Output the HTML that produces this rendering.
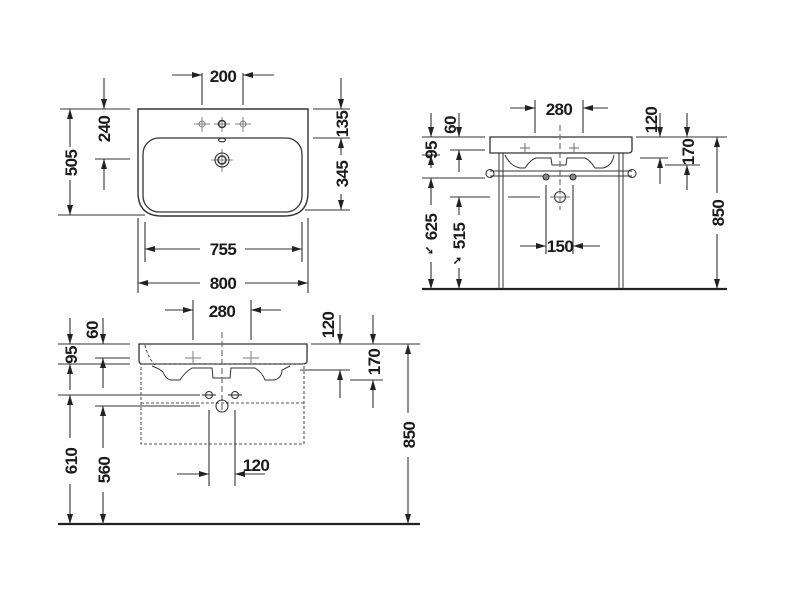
<!DOCTYPE html>
<html><head><meta charset="utf-8"><style>
html,body{margin:0;padding:0;background:#fff;}
svg{display:block;}
text{font-family:"Liberation Sans",sans-serif;font-weight:bold;font-size:17px;letter-spacing:-0.6px;fill:#1a1a1a;text-anchor:middle;}
</style></head><body>
<svg width="800" height="600" viewBox="0 0 800 600" xmlns="http://www.w3.org/2000/svg">
<defs>
<marker id="a" viewBox="0 0 10 6" refX="10" refY="3" markerWidth="10" markerHeight="6" markerUnits="userSpaceOnUse" orient="auto"><path d="M0,0 L10,3 L0,6 z" fill="#222"/></marker>
</defs>
<g stroke="#333" stroke-width="1.1" fill="none">
<!-- ===== TOP VIEW ===== -->
<path d="M138,109 L308,109 L308,192 Q308,216 284,216 L162,216 Q138,216 138,192 Z" stroke-width="1.4"/>
<rect x="143" y="138" width="159" height="74" rx="16" stroke-width="1.3"/>
<g stroke="#666" stroke-width="0.8">
<line x1="194" y1="124" x2="210" y2="124"/><line x1="202" y1="117" x2="202" y2="132"/><circle cx="202" cy="124" r="3"/>
<line x1="235" y1="124" x2="251" y2="124"/><line x1="243" y1="117" x2="243" y2="132"/><circle cx="243" cy="124" r="3"/>
<line x1="214" y1="124" x2="230" y2="124"/><line x1="222" y1="117" x2="222" y2="132"/>
<line x1="211" y1="160" x2="233" y2="160"/><line x1="222" y1="149" x2="222" y2="172"/>
</g>
<circle cx="222" cy="124" r="3.5" stroke-width="1.5"/>
<ellipse cx="222" cy="140" rx="3.5" ry="1.8"/>
<circle cx="222" cy="160" r="7"/><circle cx="222" cy="160" r="4" stroke-width="1.5"/>
<!-- 200 -->
<line x1="202" y1="73" x2="202" y2="105"/><line x1="243" y1="73" x2="243" y2="105"/>
<line x1="172" y1="75" x2="202" y2="75" marker-end="url(#a)"/><line x1="274" y1="75" x2="243" y2="75" marker-end="url(#a)"/>
<!-- 240 / 505 -->
<line x1="60" y1="109" x2="130" y2="109"/><line x1="95" y1="159" x2="130" y2="159"/>
<line x1="58" y1="215" x2="145" y2="215"/>
<line x1="104" y1="78" x2="104" y2="109" marker-end="url(#a)"/>
<line x1="104" y1="190" x2="104" y2="159" marker-end="url(#a)"/>
<line x1="70" y1="147" x2="70" y2="109" marker-end="url(#a)"/>
<line x1="70" y1="180" x2="70" y2="215" marker-end="url(#a)"/>
<!-- 135 / 345 -->
<line x1="313" y1="109" x2="350" y2="109"/><line x1="313" y1="138" x2="350" y2="138"/><line x1="305" y1="210" x2="350" y2="210"/>
<line x1="341" y1="78" x2="341" y2="109" marker-end="url(#a)"/>
<line x1="341" y1="155" x2="341" y2="138" marker-end="url(#a)"/>
<line x1="341" y1="194" x2="341" y2="210" marker-end="url(#a)"/>
<!-- 755 / 800 -->
<line x1="145" y1="222" x2="145" y2="262"/><line x1="302" y1="222" x2="302" y2="262"/>
<line x1="138" y1="218" x2="138" y2="293"/><line x1="308" y1="218" x2="308" y2="293"/>
<line x1="200" y1="249" x2="145" y2="249" marker-end="url(#a)"/><line x1="245" y1="249" x2="302" y2="249" marker-end="url(#a)"/>
<line x1="200" y1="283" x2="138" y2="283" marker-end="url(#a)"/><line x1="245" y1="283" x2="308" y2="283" marker-end="url(#a)"/>

<!-- ===== RIGHT SIDE VIEW (console) ===== -->
<line x1="422" y1="289" x2="727" y2="289" stroke-width="2.2" stroke="#222"/>
<path d="M490,137 L632,137 L632,150 Q632,153 628,153 L490,153 Z" stroke-width="1.3"/>
<path d="M505,155 Q510,166 520,168 L525,168 Q530,160 536,158 L546,158 L551,158 L552,165 L566,165 L567,158 L585,158 Q590,160 595,168 L603,168 Q612,166 614,155" stroke-width="1"/>
<line x1="499" y1="153" x2="499" y2="289" stroke-width="1"/><line x1="503" y1="153" x2="503" y2="289" stroke-width="1"/>
<line x1="619" y1="153" x2="619" y2="289" stroke-width="1"/><line x1="623" y1="153" x2="623" y2="289" stroke-width="1"/>
<line x1="490" y1="171" x2="632" y2="171"/><line x1="490" y1="176" x2="632" y2="176"/>
<circle cx="490" cy="173.5" r="4"/><circle cx="632" cy="173.5" r="4"/>
<circle cx="546" cy="177" r="3" fill="#888"/><circle cx="573" cy="177" r="3" fill="#888"/>
<circle cx="560" cy="197" r="5.5"/>
<line x1="550" y1="197" x2="570" y2="197" stroke="#666"/><line x1="560" y1="125" x2="560" y2="210" stroke="#666" stroke-dasharray="6,3"/>
<line x1="520" y1="148" x2="530" y2="148" stroke="#777"/><line x1="525" y1="143" x2="525" y2="153" stroke="#777"/>
<line x1="569" y1="148" x2="579" y2="148" stroke="#777"/><line x1="574" y1="143" x2="574" y2="153" stroke="#777"/>
<!-- 280 -->
<line x1="535" y1="100" x2="535" y2="133"/><line x1="583" y1="100" x2="583" y2="133"/>
<line x1="510" y1="108" x2="535" y2="108" marker-end="url(#a)"/><line x1="608" y1="108" x2="583" y2="108" marker-end="url(#a)"/>
<!-- left dims -->
<line x1="422" y1="137" x2="485" y2="137"/><line x1="450" y1="150" x2="485" y2="150"/>
<line x1="422" y1="155" x2="440" y2="155"/><line x1="422" y1="178" x2="485" y2="178"/>
<line x1="450" y1="197" x2="490" y2="197"/><line x1="508" y1="197" x2="540" y2="197"/>
<line x1="459" y1="113" x2="459" y2="137" marker-end="url(#a)"/>
<line x1="459" y1="172" x2="459" y2="150" marker-end="url(#a)"/>
<line x1="431" y1="113" x2="431" y2="137" marker-end="url(#a)"/>
<line x1="431" y1="168" x2="431" y2="155" marker-end="url(#a)"/>
<line x1="431" y1="205" x2="431" y2="178" marker-end="url(#a)"/>
<line x1="431" y1="262" x2="431" y2="289" marker-end="url(#a)"/>
<line x1="459" y1="215" x2="459" y2="197" marker-end="url(#a)"/>
<line x1="459" y1="268" x2="459" y2="289" marker-end="url(#a)"/>
<!-- 150 -->
<line x1="546" y1="185" x2="546" y2="254"/><line x1="573" y1="185" x2="573" y2="254"/>
<line x1="520" y1="246" x2="546" y2="246" marker-end="url(#a)"/><line x1="600" y1="246" x2="573" y2="246" marker-end="url(#a)"/>
<!-- right dims -->
<line x1="636" y1="137" x2="727" y2="137"/><line x1="640" y1="158" x2="668" y2="158"/><line x1="665" y1="165" x2="700" y2="165"/>
<line x1="660" y1="113" x2="660" y2="137" marker-end="url(#a)"/>
<line x1="687" y1="113" x2="687" y2="137" marker-end="url(#a)"/>
<line x1="660" y1="184" x2="660" y2="158" marker-end="url(#a)"/>
<line x1="687" y1="190" x2="687" y2="165" marker-end="url(#a)"/>
<line x1="717" y1="193" x2="717" y2="137" marker-end="url(#a)"/>
<line x1="717" y1="234" x2="717" y2="289" marker-end="url(#a)"/>

<!-- ===== BOTTOM-LEFT SIDE VIEW ===== -->
<line x1="58" y1="524" x2="420" y2="524" stroke-width="2.2" stroke="#222"/>
<path d="M139,344 L307,344 L307,362 Q306,364 302,364 L142,364 Q139,364 139,360 Z" stroke-width="1.3"/>
<path d="M152,366 Q160,369 163,372 Q166,380 172,380 L180,380 Q185,372 192,368 L212,368 L213,378 L230,378 L231,368 L255,368 Q262,372 265,380 L274,380 Q282,378 282,370 L290,366" stroke-width="1"/>
<g stroke-dasharray="3,2" stroke="#555">
<rect x="141" y="364" width="163" height="80"/>
<line x1="141" y1="403" x2="304" y2="403"/>
<path d="M145,345 Q148,358 155,365"/>
</g>
<line x1="222" y1="332" x2="222" y2="412" stroke="#666" stroke-dasharray="6,3"/>
<line x1="185" y1="358" x2="201" y2="358" stroke="#888"/><line x1="193" y1="351" x2="193" y2="365" stroke="#888"/>
<line x1="243" y1="358" x2="259" y2="358" stroke="#888"/><line x1="251" y1="351" x2="251" y2="365" stroke="#888"/>
<circle cx="209" cy="395" r="3.5"/><circle cx="235" cy="395" r="3.5"/>
<line x1="202" y1="395" x2="216" y2="395"/><line x1="228" y1="395" x2="242" y2="395"/>
<circle cx="222" cy="406" r="6"/>
<!-- 280 -->
<line x1="193" y1="300" x2="193" y2="340"/><line x1="251" y1="300" x2="251" y2="340"/>
<line x1="165" y1="310" x2="193" y2="310" marker-end="url(#a)"/><line x1="281" y1="310" x2="251" y2="310" marker-end="url(#a)"/>
<!-- left dims -->
<line x1="58" y1="344" x2="130" y2="344"/><line x1="95" y1="358" x2="130" y2="358"/>
<line x1="58" y1="364" x2="130" y2="364"/><line x1="58" y1="395" x2="200" y2="395"/>
<line x1="95" y1="406" x2="200" y2="406"/>
<line x1="103" y1="318" x2="103" y2="344" marker-end="url(#a)"/>
<line x1="103" y1="388" x2="103" y2="358" marker-end="url(#a)"/>
<line x1="70" y1="318" x2="70" y2="344" marker-end="url(#a)"/>
<line x1="70" y1="390" x2="70" y2="364" marker-end="url(#a)"/>
<line x1="70" y1="438" x2="70" y2="395" marker-end="url(#a)"/>
<line x1="70" y1="484" x2="70" y2="524" marker-end="url(#a)"/>
<line x1="103" y1="448" x2="103" y2="406" marker-end="url(#a)"/>
<line x1="103" y1="492" x2="103" y2="524" marker-end="url(#a)"/>
<!-- 120 -->
<line x1="209" y1="410" x2="209" y2="486"/><line x1="235" y1="410" x2="235" y2="486"/>
<line x1="177" y1="474" x2="209" y2="474" marker-end="url(#a)"/><line x1="265" y1="474" x2="235" y2="474" marker-end="url(#a)"/>
<!-- right dims -->
<line x1="311" y1="344" x2="420" y2="344"/><line x1="300" y1="370" x2="350" y2="370"/><line x1="350" y1="380" x2="383" y2="380"/>
<line x1="340" y1="315" x2="340" y2="344" marker-end="url(#a)"/>
<line x1="373" y1="315" x2="373" y2="344" marker-end="url(#a)"/>
<line x1="340" y1="398" x2="340" y2="370" marker-end="url(#a)"/>
<line x1="373" y1="408" x2="373" y2="380" marker-end="url(#a)"/>
<line x1="408" y1="413" x2="408" y2="344" marker-end="url(#a)"/>
<line x1="408" y1="457" x2="408" y2="524" marker-end="url(#a)"/>
</g>

<!-- TEXT: top view -->
<text x="223" y="82">200</text>
<text transform="translate(110,129) rotate(-90)">240</text>
<text transform="translate(77,163) rotate(-90)">505</text>
<text transform="translate(348,124) rotate(-90)">135</text>
<text transform="translate(348,174) rotate(-90)">345</text>
<text x="223" y="255">755</text>
<text x="223" y="289">800</text>
<!-- right view -->
<text x="559" y="115">280</text>
<text transform="translate(456,125) rotate(-90)">60</text>
<text transform="translate(437,150) rotate(-90)">95</text>
<text transform="translate(437,227) rotate(-90)">625</text>
<text transform="translate(465,236) rotate(-90)">515</text>
<text x="429" y="254" style="font-size:11px">➘</text>
<text x="457" y="264" style="font-size:11px">➚</text>
<text x="560" y="252">150</text>
<text transform="translate(657,120) rotate(-90)">120</text>
<text transform="translate(694,152) rotate(-90)">170</text>
<text transform="translate(724,213) rotate(-90)">850</text>
<!-- bottom view -->
<text x="222" y="317">280</text>
<text transform="translate(98,330) rotate(-90)">60</text>
<text transform="translate(77,355) rotate(-90)">95</text>
<text transform="translate(77,461) rotate(-90)">610</text>
<text transform="translate(110,470) rotate(-90)">560</text>
<text x="256" y="471">120</text>
<text transform="translate(334,325) rotate(-90)">120</text>
<text transform="translate(380,362) rotate(-90)">170</text>
<text transform="translate(415,435) rotate(-90)">850</text>
</svg>
</body></html>
